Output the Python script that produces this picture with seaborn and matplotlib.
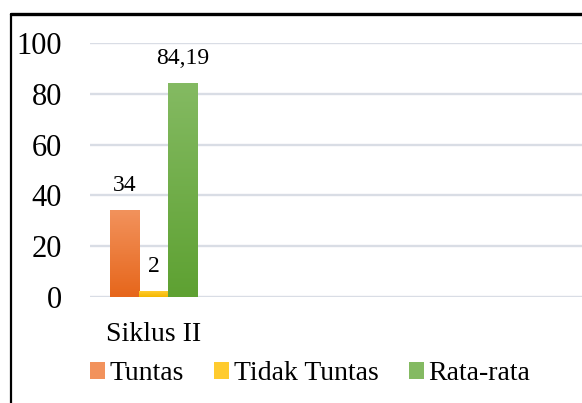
import numpy as np
import pandas as pd
import matplotlib
matplotlib.use("Agg")
import matplotlib.pyplot as plt
import seaborn as sns
from matplotlib.colors import LinearSegmentedColormap
from matplotlib.patches import Patch
from matplotlib.lines import Line2D

# data
siklus = ["Siklus II"]
series = ["Tuntas", "Tidak Tuntas", "Rata-rata"]
nilai = [34, 2, 84.19]
labels = ["34", "2", "84,19"]

# gradient colours (bottom, top) per series
warna = {
    "Tuntas": ("#E6661B", "#F2925C"),
    "Tidak Tuntas": ("#F3B700", "#FFCB2E"),
    "Rata-rata": ("#5EA132", "#84BA62"),
}

df = pd.DataFrame({"siklus": siklus * 3, "ket": series, "nilai": nilai})

sns.set_theme(style="white")
plt.rcParams["font.family"] = ["Liberation Serif", "DejaVu Serif"]

fig = plt.figure(figsize=(5.82, 4.03), dpi=100)
ax = fig.add_axes([90 / 582, 106 / 403, 492 / 582, 254 / 403])

palette = {k: v[0] for k, v in warna.items()}
sns.barplot(data=df, x="siklus", y="nilai", hue="ket", hue_order=series,
            palette=palette, width=0.6, legend=False, ax=ax,
            saturation=1, linewidth=0, zorder=2)

# gradient fill on each bar + value labels
for cont, s, lab in zip(ax.containers, series, labels):
    bar = cont[0]
    x0, y0 = bar.get_x(), bar.get_y()
    w, h = bar.get_width(), bar.get_height()
    cmap = LinearSegmentedColormap.from_list(s, list(warna[s]))
    grad = np.linspace(0, 1, 100).reshape(-1, 1)
    ax.imshow(grad, extent=[x0, x0 + w, y0, y0 + h], origin="lower",
              aspect="auto", cmap=cmap, zorder=3)
    ax.annotate(lab, (x0 + w / 2, y0 + h), xytext=(0, 18),
                textcoords="offset points", ha="center", va="center",
                fontsize=17, color="black")

ax.set_xlim(-0.438, 2.955)
ax.set_ylim(0, 100)
ax.set_yticks(range(0, 101, 20))

ax.grid(axis="y", color="#D9DDE5", linewidth=1.7, zorder=0)
ax.grid(axis="x", visible=False)
for sp in ax.spines.values():
    sp.set_visible(False)
ax.tick_params(axis="y", labelsize=22, pad=20, length=0, colors="black")
ax.tick_params(axis="x", labelsize=20, pad=18, length=0, colors="black")
ax.set_xlabel("")
ax.set_ylabel("")

handles = [Patch(facecolor=warna[s][1], edgecolor="none", label=s) for s in series]
fig.legend(handles=handles, loc="center", bbox_to_anchor=(310 / 582, 1 - 374 / 403),
           ncol=3, frameon=False, fontsize=20, handlelength=0.55, handleheight=0.55,
           handletextpad=0.15, columnspacing=1.1, labelcolor="black")

# chart border (cropped: top and left visible)
fig.add_artist(Line2D([11 / 582, 1], [1 - 14 / 403, 1 - 14 / 403], color="black", linewidth=2.4))
fig.add_artist(Line2D([11 / 582, 11 / 582], [0, 1 - 14 / 403], color="black", linewidth=1.6))

fig.savefig("out.png", dpi=100)
